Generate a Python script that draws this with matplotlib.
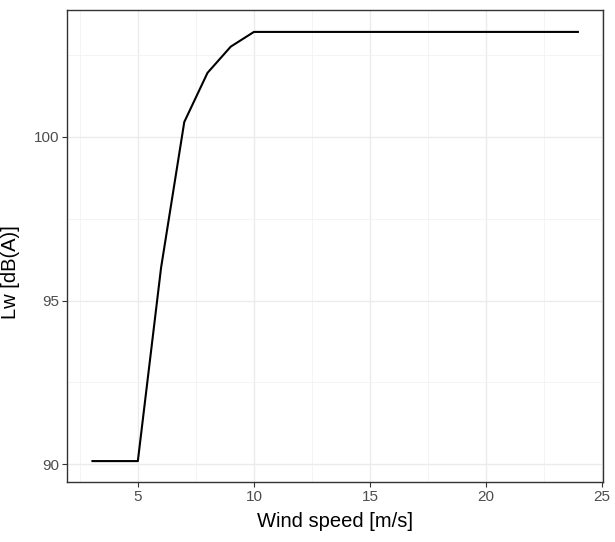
import matplotlib
matplotlib.use("Agg")
import matplotlib.pyplot as plt

plt.rcParams['font.family'] = ['Liberation Sans', 'DejaVu Sans']

# power curve: sound power level vs wind speed
wind_speed = [3, 4, 5, 6, 7, 8, 9, 10, 11, 12, 13, 14, 15, 16, 17, 18, 19, 20, 21, 22, 23, 24]
lw_dba = [90.1, 90.1, 90.1, 96.0, 100.45, 101.95, 102.75, 103.2, 103.2, 103.2, 103.2,
          103.2, 103.2, 103.2, 103.2, 103.2, 103.2, 103.2, 103.2, 103.2, 103.2, 103.2]
x_ticks = [5, 10, 15, 20, 25]
y_ticks = [90, 95, 100]

fig = plt.figure(figsize=(6.15, 5.42), dpi=100)
ax = fig.add_axes([0.109, 0.110, 0.872, 0.871])

ax.plot(wind_speed, lw_dba, color='black', lw=1.5, solid_capstyle='butt')

ax.set_xlim(1.95, 25.05)
ax.set_ylim(89.45, 103.86)
ax.set_xticks(x_ticks)
ax.set_yticks(y_ticks)
ax.set_xticks([7.5, 12.5, 17.5, 22.5, 2.5], minor=True)
ax.set_yticks([92.5, 97.5, 102.5], minor=True)

ax.grid(True, which='major', color='#ebebeb', lw=1.0)
ax.grid(True, which='minor', color='#f2f2f2', lw=0.6)
ax.set_axisbelow(True)
for s in ax.spines.values():
    s.set_color('#333333')
    s.set_linewidth(1.0)

ax.tick_params(which='major', length=3.5, width=0.8, color='#333333',
               labelsize=11, labelcolor='#4d4d4d', pad=2)
ax.tick_params(which='minor', length=0)

ax.set_xlabel('Wind speed [m/s]', fontsize=14.5, color='black', labelpad=6)
ax.set_ylabel('Lw [dB(A)]', fontsize=14.5, color='black')
ax.yaxis.set_label_coords(-0.088, 0.445)

fig.savefig('out.png', dpi=100)
